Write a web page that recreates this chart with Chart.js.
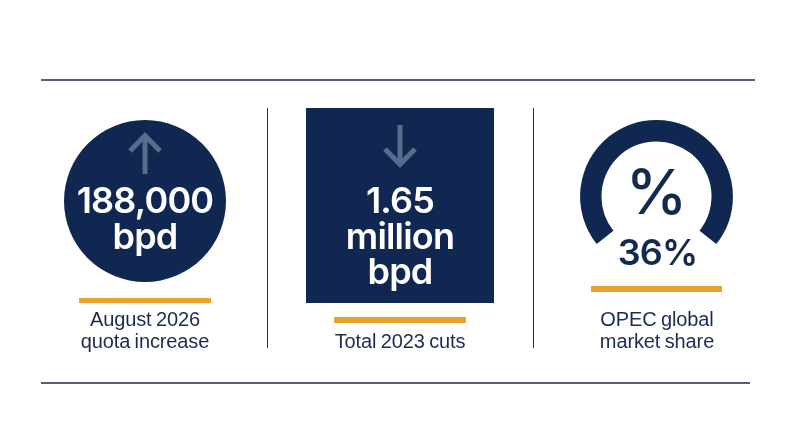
<!DOCTYPE html>
<html><head><meta charset="utf-8">
<script src="https://cdn.jsdelivr.net/npm/chart.js@4"></script>
<style>
html,body{margin:0;padding:0;background:#fff;width:800px;height:447px;overflow:hidden}
#page{position:relative;width:800px;height:447px;font-family:Inter,"Liberation Sans",sans-serif;color:#13294f}
canvas{position:absolute}
.rule{position:absolute;background:#565f7a;height:2px}
.vr{position:absolute;background:#1d3057;width:1px;top:108px;height:240px}
.gold{position:absolute;background:#eaa22f;height:5.5px}
.t{position:absolute;text-align:center;white-space:nowrap}
.big{font-weight:600;font-size:36px;line-height:35.5px;letter-spacing:-.8px;color:#fff;left:0}
.cap{font-family:"Liberation Sans",Arial,sans-serif;font-weight:400;font-size:20px;line-height:22px;letter-spacing:-.12px;word-spacing:-1px;color:#1a2c52}
svg{position:absolute;left:0;top:0}
</style></head><body>
<div id="page">
<div class="rule" style="left:41px;top:79px;width:714px"></div>
<div class="rule" style="left:41px;top:382px;width:709px"></div>
<div class="vr" style="left:267px"></div>
<div class="vr" style="left:533px"></div>
<canvas id="c1" width="162" height="162" style="left:64px;top:120px"></canvas>
<canvas id="c2" width="188" height="195" style="left:306px;top:108px"></canvas>
<canvas id="c3" width="153" height="124" style="left:580px;top:120px"></canvas>
<svg width="800" height="447" fill="none" stroke="#5a6b8b" stroke-width="5">
<path d="M145 174V136M130 151L145 135.500L160 151"/>
<path d="M400 125V164M385 149L400 164.500L415 149"/>
</svg>
<div class="gold" style="left:79px;top:297.700px;width:132px"></div>
<div class="gold" style="left:334px;top:317px;width:132px"></div>
<div class="gold" style="left:590.500px;top:286px;width:131.500px"></div>
<div id="labels"></div>
</div>
<script>
const categories = ['August 2026 quota increase', 'Total 2023 cuts', 'OPEC global market share'];
const quotaIncrease = [188000];
const totalCuts = [1.65];
const marketShare = [36];
const bigLabels = [['188,000', 'bpd'], ['1.65', 'million', 'bpd'], ['36%']];
const captionLines = [['August 2026', 'quota increase'], ['Total 2023 cuts'], ['OPEC global', 'market share']];
const glyphLabel = '%';

const navy = '#102851';
const base = {responsive:false, animation:false, events:[], devicePixelRatio:1,
  layout:{padding:0}, plugins:{legend:{display:false},tooltip:{enabled:false},title:{display:false}}};

new Chart(document.getElementById('c1'), {type:'pie',
  data:{labels:[categories[0]], datasets:[{data:quotaIncrease, backgroundColor:navy, borderWidth:0}]},
  options:{...base}});
new Chart(document.getElementById('c2'), {type:'bar',
  data:{labels:[categories[1]], datasets:[{data:totalCuts, backgroundColor:navy, borderWidth:0, barPercentage:1, categoryPercentage:1}]},
  options:{...base, scales:{x:{display:false},y:{display:false,min:0,max:totalCuts[0]}}}});
new Chart(document.getElementById('c3'), {type:'doughnut',
  data:{labels:[categories[2]], datasets:[{data:marketShare, backgroundColor:navy, borderWidth:0}]},
  options:{...base, rotation:-128.5, circumference:257, cutout:'72%'}});

const host = document.getElementById('labels');
function put(text, cls, cx, cy, extra){
  const d = document.createElement('div');
  d.className = 't ' + cls; d.textContent = text;
  d.style.left = (cx-150)+'px'; d.style.width='300px';
  d.style.top = cy+'px'; d.style.transform='translateY(-50%)';
  if(extra) Object.assign(d.style, extra);
  host.appendChild(d);
}
bigLabels[0].forEach((s,i)=>put(s,'big',145,201+i*35.5));
bigLabels[1].forEach((s,i)=>put(s,'big',400,201+i*35.5));
put(bigLabels[2][0],'big',657.5,253,{color:'#13294f'});
put(glyphLabel,'big',656.500,192,{color:'#13294f',fontSize:'62px',fontWeight:'500',lineHeight:'70px',letterSpacing:'0'});
captionLines[0].forEach((s,i)=>put(s,'cap',145,319+i*22));
captionLines[1].forEach((s,i)=>put(s,'cap',400,341+i*22));
captionLines[2].forEach((s,i)=>put(s,'cap',657,319+i*22));
</script>
</body></html>
